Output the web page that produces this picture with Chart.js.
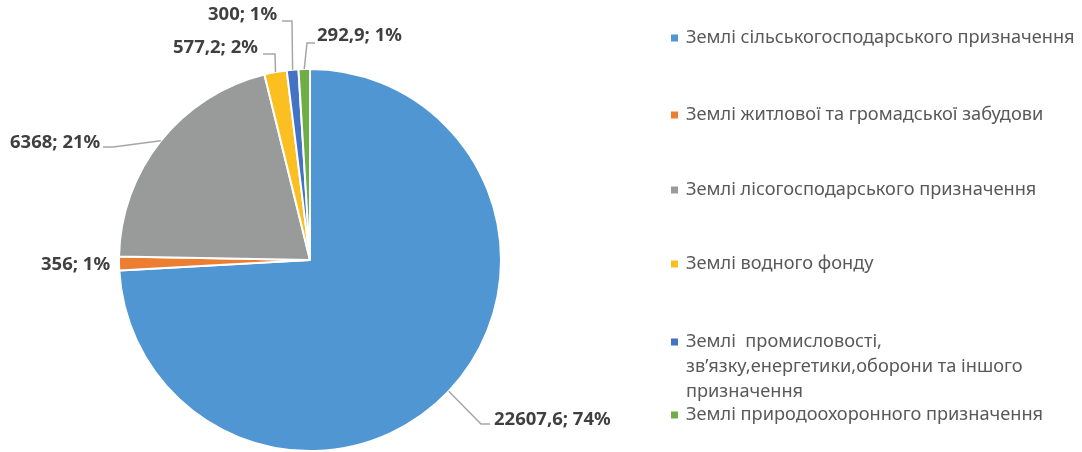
<!DOCTYPE html>
<html>
<head>
<meta charset="utf-8">
<script src="https://cdn.jsdelivr.net/npm/chart.js@4/dist/chart.umd.min.js"></script>
<style>
  html, body { margin: 0; padding: 0; background: #fff; overflow: hidden; }
  #wrap { position: relative; width: 1082px; height: 470px; }
</style>
</head>
<body>
<div id="wrap"><canvas id="landChart"></canvas></div>
<script>
const categories = [
  'Землі сільськогосподарського призначення',
  'Землі житлової та громадської забудови',
  'Землі лісогосподарського призначення',
  'Землі водного фонду',
  'Землі  промисловості, зв\u2019язку,енергетики,оборони та іншого призначення',
  'Землі природоохоронного призначення'
]
const areas = [22607.6, 356, 6368, 577.2, 300, 292.9]
const valueLabels = ['22607,6', '356', '6368', '577,2', '300', '292,9']
const percentLabels = ['74%', '1%', '21%', '2%', '1%', '1%']
// legend text broken into lines like in the original
const legendLines = [
  ['Землі сільськогосподарського призначення'],
  ['Землі житлової та громадської забудови'],
  ['Землі лісогосподарського призначення'],
  ['Землі водного фонду'],
  ['Землі  промисловості,', 'зв\u2019язку,енергетики,оборони та іншого', 'призначення'],
  ['Землі природоохоронного призначення']
]

const colors = ['#5096d3', '#ed7d31', '#999b9b', '#fbbf22', '#4472c4', '#6fad47']

// where each data label sits, and the bend of its leader line
const labelLayout = [
  { x: 494, y: 420, elbow: [481, 424], end: [490, 424] },
  { x: 41, y: 265, elbow: null, end: null },
  { x: 10, y: 143, elbow: [113, 147], end: [103, 147] },
  { x: 173, y: 48, elbow: [275, 54], end: [263, 54] },
  { x: 208, y: 15, elbow: [292, 21], end: [282, 21] },
  { x: 317, y: 36, elbow: [307, 43], end: [315, 43] }
]
const legendY = [38, 115, 190, 264, 342, 415]

const labelsPlugin = {
  id: 'pieLabels',
  afterDraw(chart) {
    const ctx = chart.ctx
    const arcs = chart.getDatasetMeta(0).data
    ctx.save()
    // leader lines
    ctx.strokeStyle = '#a6a6a6'
    ctx.lineWidth = 1.5
    arcs.forEach((arc, i) => {
      const l = labelLayout[i]
      if (!l.elbow) return
      const p = arc.getProps(['x', 'y', 'startAngle', 'endAngle', 'outerRadius'], true)
      const mid = (p.startAngle + p.endAngle) / 2
      const ax = p.x + Math.cos(mid) * p.outerRadius
      const ay = p.y + Math.sin(mid) * p.outerRadius
      ctx.beginPath()
      ctx.moveTo(ax, ay)
      ctx.lineTo(l.elbow[0], l.elbow[1])
      ctx.lineTo(l.end[0], l.end[1])
      ctx.stroke()
    })
    // data labels
    ctx.fillStyle = '#404040'
    ctx.font = 'bold 18.5px "Noto Sans"'
    ctx.textBaseline = 'middle'
    ctx.textAlign = 'left'
    arcs.forEach((arc, i) => {
      const l = labelLayout[i]
      ctx.fillText(valueLabels[i] + '; ' + percentLabels[i], l.x, l.y)
    })
    // legend
    ctx.font = '18.2px "Noto Sans"'
    legendLines.forEach((lines, i) => {
      const y = legendY[i]
      ctx.fillStyle = colors[i]
      ctx.fillRect(671, y - 3.5, 7, 7)
      ctx.fillStyle = '#595959'
      lines.forEach((t, k) => ctx.fillText(t, 686, y + k * 25))
    })
    ctx.restore()
  }
}

new Chart(
  document.getElementById('landChart'),
  {
    type: 'pie',
    data: {
      labels: categories,
      datasets: [
        {
          data: areas,
          backgroundColor: colors,
          borderColor: '#ffffff',
          borderWidth: 2
        }
      ]
    },
    options: {
      responsive: true,
      maintainAspectRatio: false,
      animation: false,
      layout: {
        padding: { left: 118, right: 580, top: 68, bottom: 18 }
      },
      plugins: {
        legend: { display: false },
        tooltip: { enabled: false }
      }
    },
    plugins: [labelsPlugin]
  }
)
</script>
</body>
</html>
